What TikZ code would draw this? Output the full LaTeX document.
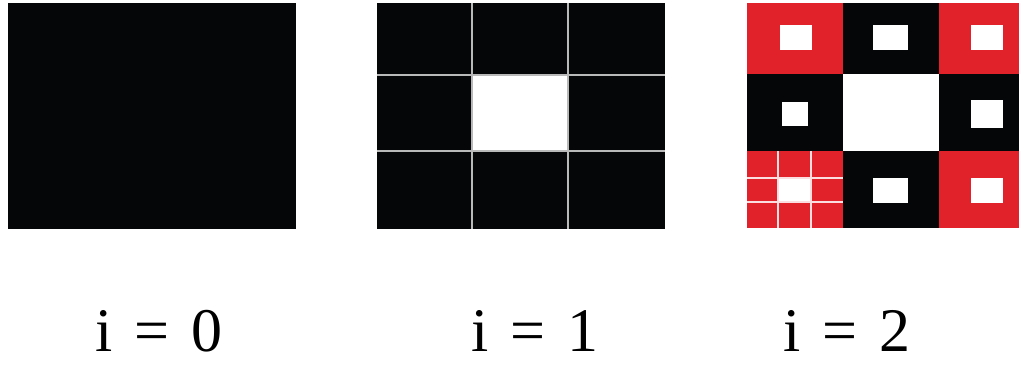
\documentclass[tikz,border=0pt]{standalone}
\usepackage{fontspec}
\setmainfont{Liberation Serif}
\definecolor{cantorred}{RGB}{226,34,42}
\definecolor{cantorblack}{RGB}{5,6,8}
\newcommand{\eqgap}{\hspace{0.36em}}
\begin{document}
\begin{tikzpicture}[x=0.5pt, y=-0.5pt, every node/.style={font=\fontsize{31}{34}\selectfont, inner sep=0pt},
  gridline/.style={draw=gray!55, line width=0.8pt},
  subline/.style={draw=white!85!cantorred, line width=0.8pt}]
  \useasboundingbox (0,0) rectangle (1019,365);
  % i = 0
  \fill[cantorblack] (8,3) rectangle (296,229);
  % i = 1
  \fill[cantorblack] (377,3) rectangle (665,229);
  \fill[white] (472,75) rectangle (568,151);
  \foreach \gx in {472,568} \draw[gridline] (\gx,3) -- (\gx,229);
  \foreach \gy in {75,151} \draw[gridline] (377,\gy) -- (665,\gy);
  % i = 2
  \begin{scope}
    \clip (0,0) rectangle (1019,365);
    \foreach \xa/\xb/\ya/\yb/\col in {747/843/3/74/cantorred, 843/939/3/74/cantorblack, 939/1035/3/74/cantorred,
        747/843/74/151/cantorblack, 843/939/74/151/white, 939/1035/74/151/cantorblack,
        747/843/151/228/cantorred, 843/939/151/228/cantorblack, 939/1035/151/228/cantorred} {
      \fill[\col] (\xa,\ya) rectangle (\xb,\yb);
    }
  \end{scope}
  \foreach \cx/\cy/\hw/\hh in {796/37.5/16/12.5, 890.5/37.5/17.5/12.5, 987/37.5/16/12.5,
      795/114/13/12, 987/114/16/14, 890.5/190.5/17.5/12.5, 987/190.5/16/12.5} {
    \fill[white] (\cx-\hw,\cy-\hh) rectangle (\cx+\hw,\cy+\hh);
  }
  \fill[white] (778,178) rectangle (811,202);
  \foreach \gx in {778,811} \draw[subline] (\gx,151) -- (\gx,228);
  \foreach \gy in {178,202} \draw[subline] (747,\gy) -- (843,\gy);
  % labels
  \node[anchor=base] (lab0) at (159,351) {i\eqgap=\eqgap0};
  \node[anchor=base] (lab1) at (535,351) {i\eqgap=\eqgap1};
  \node[anchor=base] (lab2) at (847,351) {i\eqgap=\eqgap2};
\end{tikzpicture}
\end{document}
